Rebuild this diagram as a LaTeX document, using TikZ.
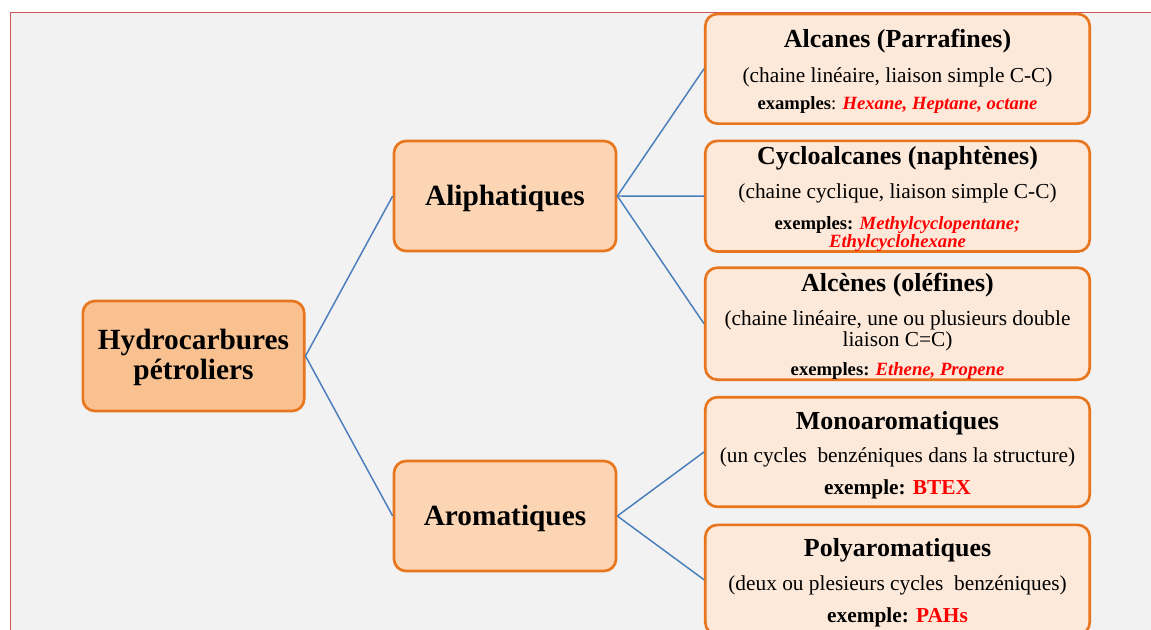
\documentclass[tikz,border=0pt]{standalone}
\usepackage{fontspec}
\setmainfont{Liberation Serif}
\definecolor{boxorange}{HTML}{E8761E}
\definecolor{rootfill}{HTML}{F9C18F}
\definecolor{midfill}{HTML}{FCD6B4}
\definecolor{leaffill}{HTML}{FDE9DA}
\definecolor{linkblue}{HTML}{4A7EBB}
\definecolor{framered}{HTML}{CF5656}
\definecolor{pagegray}{HTML}{F2F2F2}
\newcommand{\leaffont}{\fontsize{16}{14}\selectfont\lineskiplimit=-50pt\relax}
\newcommand{\titlefont}{\fontsize{19.5}{14}\selectfont\bfseries\rule{0pt}{18pt}}
\newcommand{\exfont}{\fontsize{14}{14}\selectfont}
\newcommand{\bigexfont}{\fontsize{16}{14}\selectfont}
\newcommand{\redbi}[1]{\textcolor{red}{\bfseries\itshape #1}}
\newcommand{\redb}[1]{\textcolor{red}{\bfseries #1}}
\begin{document}
\begin{tikzpicture}[x=0.75pt, y=-0.75pt,
  box/.style={draw=boxorange, line width=2pt, rounded corners=9pt, align=center, inner sep=0pt},
  rootbox/.style={box, fill=rootfill, minimum width=166pt, minimum height=82.5pt, font=\fontsize{22}{22.5}\selectfont\bfseries},
  midbox/.style={box, fill=midfill, minimum width=166.5pt, minimum height=82.5pt, font=\fontsize{22}{22.5}\selectfont\bfseries},
  leafbox/.style={box, fill=leaffill, minimum width=288.3pt, minimum height=82.2pt, font=\leaffont},
  link/.style={draw=linkblue, line width=1.1pt}]
\useasboundingbox (0,0) rectangle (1151,629);
\clip (0,0) rectangle (1151,629);
% Page frame
\fill[white] (0,0) rectangle (1151,629);
\draw[framered, fill=pagegray, line width=1.1pt] (10.5,12.7) rectangle (1170,650);

% Root
\node[rootbox] (hydro) at (193.5,356) {\rule{0pt}{18pt}Hydrocarbures\\pétroliers};

% Two families
\node[midbox] (aliph) at (505,196) {\rule{0pt}{19.5pt}Aliphatiques};
\node[midbox] (arom) at (505,516) {\rule{0pt}{19.5pt}Aromatiques};

% Aliphatic classes
\node[leafbox] (alcanes) at (897.5,68.8) {{\titlefont Alcanes (Parrafines)}\\[12pt]
(chaine linéaire, liaison simple C-C)\\[6.5pt]
{\exfont\textbf{examples}: \redbi{Hexane, Heptane, octane}}};
\node[leafbox] (cyclo) at (897.5,196.2) {{\titlefont Cycloalcanes (naphtènes)}\\[11.5pt]
(chaine cyclique, liaison simple C-C)\\[9pt]
{\exfont\textbf{exemples:} \redbi{Methylcyclopentane;}}\\[-0.5pt]
{\exfont\redbi{Ethylcyclohexane}}};
\node[leafbox] (alcenes) at (897.5,323.7) {{\titlefont Alcènes (oléfines)}\\[11.5pt]
(chaine linéaire, une ou plusieurs double\\[1.8pt]
liaison C=C)\\[7.7pt]
{\exfont\textbf{exemples:} \redbi{Ethene, Propene}}};

% Aromatic classes
\node[leafbox] (mono) at (897.5,452) {{\titlefont Monoaromatiques}\\[11pt]
(un cycles\ \ benzéniques dans la structure)\\[10pt]
{\bigexfont\textbf{exemple:} \redb{BTEX}}};
\node[leafbox] (poly) at (897.5,579.7) {{\titlefont Polyaromatiques}\\[11pt]
(deux ou plesieurs cycles\ \ benzéniques)\\[10pt]
{\bigexfont\textbf{exemple:} \redb{PAHs}}};

% Connections
\draw[link] (hydro.east) -- (aliph.west);
\draw[link] (hydro.east) -- (arom.west);
\draw[link] (aliph.east) -- (alcanes.west);
\draw[link] (aliph.east) -- (cyclo.west);
\draw[link] (aliph.east) -- (alcenes.west);
\draw[link] (arom.east) -- (mono.west);
\draw[link] (arom.east) -- (poly.west);
\end{tikzpicture}
\end{document}
